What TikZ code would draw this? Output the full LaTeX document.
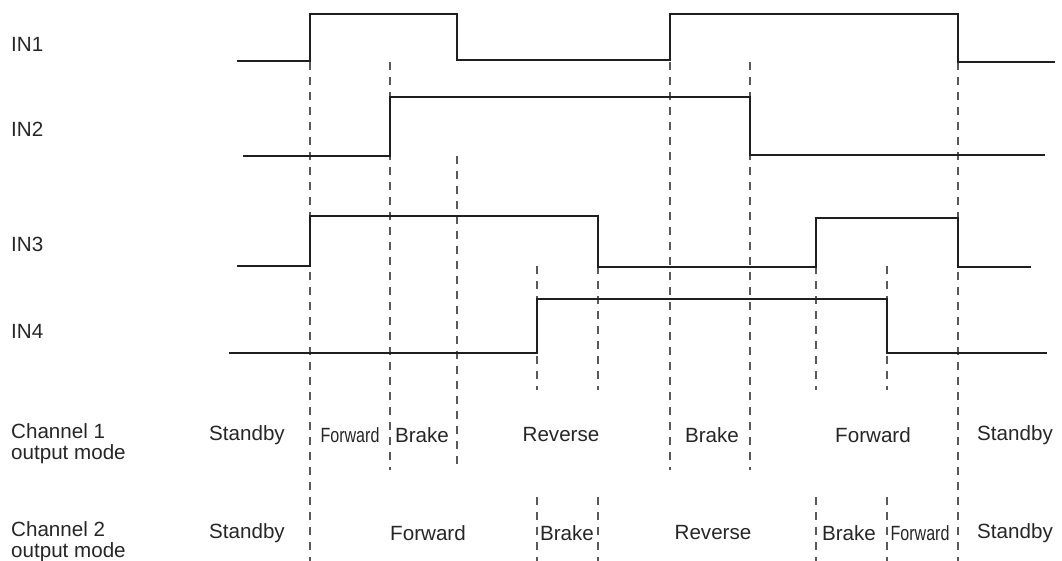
\documentclass[tikz,border=0pt]{standalone}
\usepackage{fontspec}
\usepackage{graphicx}
\setmainfont{Liberation Sans}
\begin{document}
\begin{tikzpicture}[x=1pt,y=-1pt,
  sig/.style={line width=2.9pt, color=black!88, line join=miter},
  guide/.style={line width=1.3pt, color=black!65, dash pattern=on 8pt off 7pt},
  lbl/.style={inner sep=0pt, font=\fontsize{20.6}{21}\selectfont, text=black!85},
  mode/.style={lbl, anchor=center}]
\useasboundingbox (0,0) rectangle (1062,561);
% guide lines
\foreach \x/\a/\b in {310/62/561, 390/62/470, 457/156/470, 670/62/470, 750/62/470, 958/62/561,
  537/266/390, 598/266/390, 816/266/390, 887/266/390,
  537/497/561, 598/497/561, 816/497/561, 887/497/561}
  \draw[guide] (\x,\a) -- (\x,\b);
% signals
\draw[sig] (237,61) -- (310,61) -- (310,14) -- (457,14) -- (457,60) -- (670,60) -- (670,14) -- (958,14) -- (958,62) -- (1055,62);
\draw[sig] (243,156) -- (390,156) -- (390,97) -- (750,97) -- (750,155) -- (1045,155);
\draw[sig] (237,266) -- (310,266) -- (310,216) -- (598,216) -- (598,267) -- (816,267) -- (816,218) -- (958,218) -- (958,267) -- (1031,267);
\draw[sig] (229,353) -- (537,353) -- (537,299) -- (887,299) -- (887,353) -- (1047,353);
% left labels
\node[lbl, anchor=west] (in1) at (11,44) {IN1};
\node[lbl, anchor=west] (in2) at (11,129) {IN2};
\node[lbl, anchor=west] (in3) at (11,244) {IN3};
\node[lbl, anchor=west] (in4) at (11,331) {IN4};
\node[lbl, anchor=west, align=left] (ch1) at (11,444) {Channel 1\\output mode};
\node[lbl, anchor=west, align=left] (ch2) at (11,542) {Channel 2\\output mode};
% channel 1 modes
\node[mode] (a1) at (247,435) {Standby};
\node[mode] (a2) at (350,435) {\scalebox{0.78}[1]{Forward}};
\node[mode] (a3) at (422,435) {Brake};
\node[mode] (a4) at (561,435) {Reverse};
\node[mode] (a5) at (712,435) {Brake};
\node[mode] (a6) at (873,435) {Forward};
\node[mode] (a7) at (1015,435) {Standby};
% channel 2 modes
\node[mode] (b1) at (247,533) {Standby};
\node[mode] (b2) at (428,533) {Forward};
\node[mode] (b3) at (567,533) {Brake};
\node[mode] (b4) at (713,533) {Reverse};
\node[mode] (b5) at (849,533) {Brake};
\node[mode] (b6) at (920,533) {\scalebox{0.78}[1]{Forward}};
\node[mode] (b7) at (1015,533) {Standby};
\end{tikzpicture}
\end{document}
